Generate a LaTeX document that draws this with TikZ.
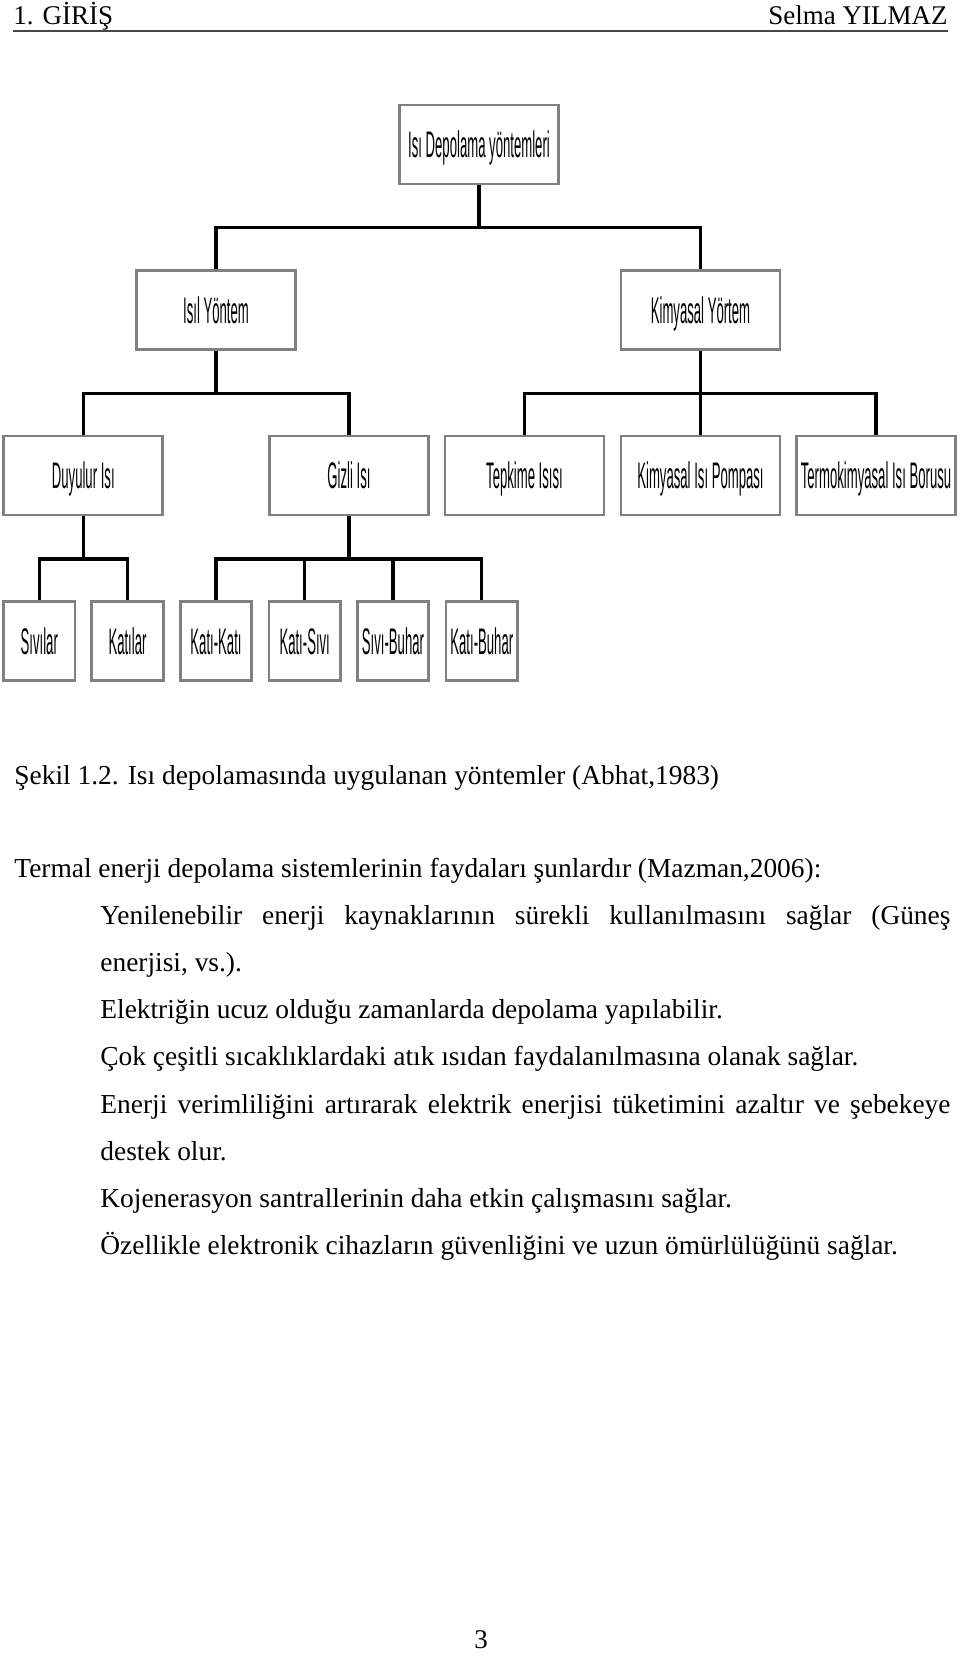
\documentclass[tikz,border=0pt]{standalone}
\usepackage{fontspec}
\usepackage{graphicx}
\setmainfont{Liberation Serif}
\newfontfamily\arialfont{Liberation Sans}
\newcommand{\nar}[1]{\scalebox{0.355}[1]{#1}}
\definecolor{boxgray}{RGB}{128,128,128}
\definecolor{hdrgray}{RGB}{70,70,70}
\tikzset{
  box/.style={draw=boxgray, line width=1.35pt, fill=white, inner sep=0pt,
    minimum width=79.5pt, minimum height=39.5pt, text height=13.3pt, text depth=0pt,
    font=\arialfont\fontsize{18.5pt}{20pt}\selectfont},
  smallbox/.style={box, minimum width=35.7pt},
  conn/.style={line width=1.65pt, black, line join=miter},
  body/.style={anchor=base west, inner sep=0pt, font=\fontsize{13.7pt}{16pt}\selectfont},
  hdr/.style={inner sep=0pt, font=\fontsize{13.5pt}{16pt}\selectfont},
}
\begin{document}
\begin{tikzpicture}[x=0.5pt,y=-0.5pt]
\useasboundingbox[fill=white] (0,0) rectangle (960,1657);

% header
\node[hdr, anchor=base west] (h1) at (13,25) {1. GİRİŞ};
\node[hdr, anchor=base east] (h2) at (948,25) {Selma YILMAZ};
\draw[line width=0.85pt, hdrgray] (13,31) -- (948,31);

% tree boxes
\node[box] (root) at (479,144.5) {\nar{Isı Depolama yöntemleri}};
\node[box] (isil) at (216,310) {\nar{Isıl Yöntem}};
\node[box] (kim) at (700.5,310) {\nar{Kimyasal Yörtem}};
\node[box] (duy) at (83.3,475.5) {\nar{Duyulur Isı}};
\node[box] (gizli) at (349,475.5) {\nar{Gizli Isı}};
\node[box] (tep) at (524.5,475.5) {\nar{Tepkime Isısı}};
\node[box] (kip) at (700.5,475.5) {\nar{Kimyasal Isı Pompası}};
\node[box] (termo) at (876,475.5) {\nar{Termokimyasal Isı Borusu}};
\node[smallbox] (siv) at (39.3,641.2) {\nar{Sıvılar}};
\node[smallbox] (kat) at (127.5,641.2) {\nar{Katılar}};
\node[smallbox] (kk) at (216,641.2) {\nar{Katı-Katı}};
\node[smallbox] (ks) at (304.7,641.2) {\nar{Katı-Sıvı}};
\node[smallbox] (sb) at (393,641.2) {\nar{Sıvı-Buhar}};
\node[smallbox] (kb) at (481.8,641.2) {\nar{Katı-Buhar}};

% connectors
\foreach \p/\c in {root/isil, root/kim, isil/duy, isil/gizli, kim/tep, kim/kip, kim/termo,
                   duy/siv, duy/kat, gizli/kk, gizli/ks, gizli/sb, gizli/kb}
  \draw[conn] (\p.south) -- ++(0,42.5) -| (\c.north);

% body text
\node[body] (cap) at (14,784) {Şekil 1.2. Isı depolamasında uygulanan yöntemler (Abhat,1983)};
\node[body] (t1) at (14,877) {Termal enerji depolama sistemlerinin faydaları şunlardır (Mazman,2006):};
\node[body] (t2) at (100,924.2) {\makebox[425pt][s]{Yenilenebilir enerji kaynaklarının sürekli kullanılmasını sağlar (Güneş}};
\node[body] (t3) at (100,971.4) {enerjisi, vs.).};
\node[body] (t4) at (100,1018.6) {Elektriğin ucuz olduğu zamanlarda depolama yapılabilir.};
\node[body] (t5) at (100,1065.8) {Çok çeşitli sıcaklıklardaki atık ısıdan faydalanılmasına olanak sağlar.};
\node[body] (t6) at (100,1113) {\makebox[425pt][s]{Enerji verimliliğini artırarak elektrik enerjisi tüketimini azaltır ve şebekeye}};
\node[body] (t7) at (100,1160.2) {destek olur.};
\node[body] (t8) at (100,1207.4) {Kojenerasyon santrallerinin daha etkin çalışmasını sağlar.};
\node[body] (t9) at (100,1254.6) {Özellikle elektronik cihazların güvenliğini ve uzun ömürlülüğünü sağlar.};

% page number
\node[hdr, anchor=base] (pg) at (481,1648) {3};
\end{tikzpicture}
\end{document}
